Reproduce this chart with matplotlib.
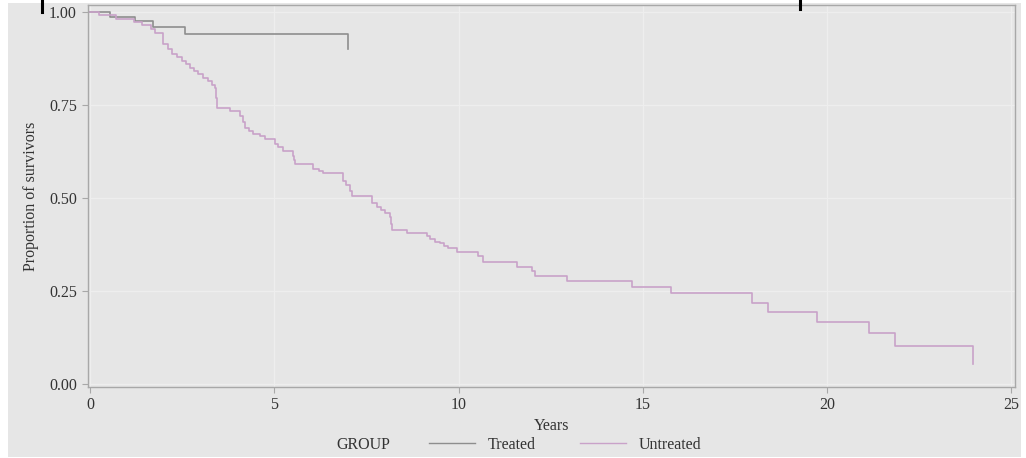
import matplotlib
matplotlib.use("Agg")
import matplotlib.pyplot as plt
from matplotlib.lines import Line2D
from matplotlib.patches import Rectangle

# Kaplan-Meier step values (time in years, survival after the step)
treated_t = [0, 0.54, 1.22, 1.71, 2.58, 7.0]
treated_s = [1.0, 0.988, 0.975, 0.96, 0.942, 0.90]

untreated_t = [0, 0.25, 0.7, 1.2, 1.4, 1.65, 1.75, 1.98, 2.1, 2.22, 2.36, 2.5, 2.6,
               2.71, 2.82, 2.93, 3.05, 3.2, 3.3, 3.39, 3.42, 3.44, 3.8, 4.07, 4.14,
               4.2, 4.3, 4.42, 4.6, 4.75, 5.02, 5.1, 5.23, 5.5, 5.52, 5.56, 6.05, 6.2,
               6.32, 6.86, 6.95, 7.05, 7.11, 7.65, 7.78, 7.9, 8.0, 8.14, 8.17, 8.19,
               8.6, 9.14, 9.22, 9.35, 9.49, 9.6, 9.71, 9.95, 10.52, 10.66, 11.58,
               12.0, 12.07, 12.94, 14.7, 15.75, 17.95, 18.4, 19.72, 21.13, 21.83, 23.95]
untreated_s = [1.0, 0.991, 0.982, 0.973, 0.964, 0.955, 0.945, 0.914, 0.9, 0.887, 0.878,
               0.869, 0.86, 0.85, 0.842, 0.834, 0.824, 0.815, 0.805, 0.796, 0.77, 0.743,
               0.735, 0.721, 0.705, 0.689, 0.681, 0.673, 0.666, 0.658, 0.646, 0.636,
               0.627, 0.614, 0.603, 0.592, 0.579, 0.572, 0.566, 0.547, 0.535, 0.52,
               0.505, 0.488, 0.475, 0.468, 0.461, 0.448, 0.43, 0.413, 0.405, 0.397,
               0.389, 0.383, 0.378, 0.372, 0.365, 0.355, 0.343, 0.327, 0.315, 0.303,
               0.29, 0.276, 0.26, 0.244, 0.217, 0.193, 0.166, 0.137, 0.102, 0.054]

x_ticks = [0, 5, 10, 15, 20, 25]
y_ticks = [0.0, 0.25, 0.5, 0.75, 1.0]
y_ticklabels = ["0.00", "0.25", "0.50", "0.75", "1.00"]
group_labels = ["Treated", "Untreated"]

treated_color = "#8e8e8e"
untreated_color = "#c9a2c9"
bg = "#e6e6e6"
txt = "#333333"
fs = 11.5

plt.rcParams["font.family"] = ["Liberation Serif", "DejaVu Serif"]

fig = plt.figure(figsize=(10.26, 4.58), dpi=100, facecolor="white")
# grey panel with thin white margins, like the cropped screenshot
fig.add_artist(Rectangle((8 / 1026, 1 / 458), 1013 / 1026, 454 / 458,
                         transform=fig.transFigure, facecolor=bg, edgecolor="none", zorder=-10))
# remnants of cut-off text at the top edge
fig.add_artist(Line2D([42 / 1026, 42 / 1026], [1.0, 1 - 12 / 458], transform=fig.transFigure,
                      color="black", lw=2.2))
fig.add_artist(Line2D([800 / 1026, 800 / 1026], [1.0, 1 - 9 / 458], transform=fig.transFigure,
                      color="black", lw=2.2))

ax = fig.add_axes([88 / 1026, 1 - 387 / 458, (1015 - 88) / 1026, (387 - 5) / 458])
ax.set_facecolor(bg)

ax.step(treated_t, treated_s, where="post", color=treated_color, lw=1.2)
ax.step(untreated_t, untreated_s, where="post", color=untreated_color, lw=1.2)

ax.set_xlim(-0.06, 25.1)
ax.set_ylim(-0.008, 1.019)
ax.set_xticks(x_ticks)
ax.set_yticks(y_ticks)
ax.set_yticklabels(y_ticklabels)
ax.grid(True, color="#eeeeee", lw=0.9)
ax.set_axisbelow(True)

for s in ax.spines.values():
    s.set_color("#a8a8a8")
    s.set_linewidth(1.0)
ax.tick_params(direction="out", length=4, width=0.8, color="#a8a8a8",
               labelsize=fs, labelcolor=txt)
ax.tick_params(axis="x", pad=3)
ax.tick_params(axis="y", pad=4)

ax.set_xlabel("Years", fontsize=fs, color=txt, labelpad=4)
ax.set_ylabel("Proportion of survivors", fontsize=fs, color=txt, labelpad=7)

handles = [Line2D([], [], color=treated_color, lw=1.0),
           Line2D([], [], color=untreated_color, lw=1.0)]
fig.legend(handles, group_labels, ncol=2, frameon=False, loc="center",
           bbox_to_anchor=(565 / 1026, 1 - 445 / 458), fontsize=fs,
           handlelength=2.9, handletextpad=0.75, columnspacing=2.8, labelcolor=txt)
fig.text(363 / 1026, 1 - 445 / 458, "GROUP", ha="center", va="center", fontsize=fs, color=txt)

fig.savefig("out.png", dpi=100, facecolor=fig.get_facecolor())
